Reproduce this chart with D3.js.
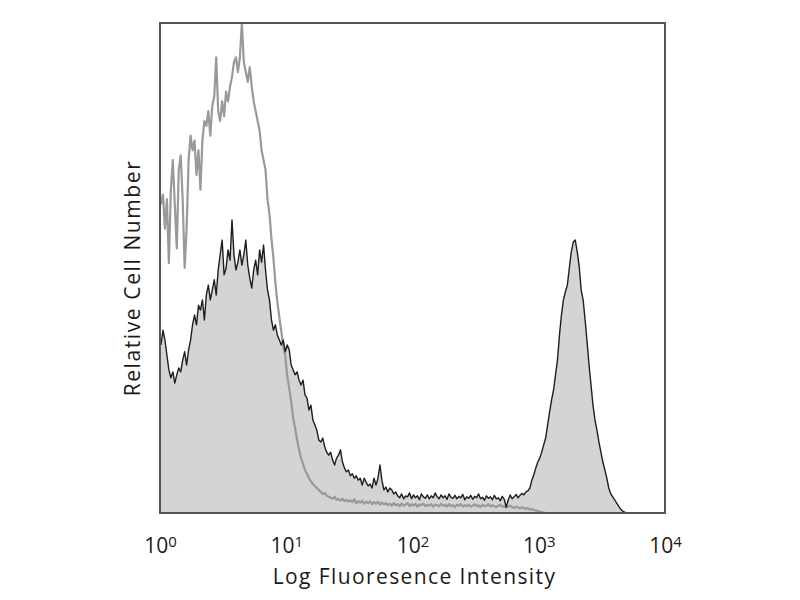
<!DOCTYPE html>
<html><head><meta charset="utf-8">
<script src="https://cdn.jsdelivr.net/npm/d3@7"></script>
<style>
body{margin:0;background:#fff;}
text{font-family:"Open Sans","Noto Sans",sans-serif;fill:#1a1a1a;}
</style>
</head><body>
<svg id="chart" width="800" height="600"></svg>
<script>
// Histogram bins: 256 channels over 4 decades (64 bins per decade)
const binsPerDecade = 64;
const decadeTicks = [1, 10, 100, 1000, 10000];
const tickExponents = ["0", "1", "2", "3", "4"];
const xTitle = "Log Fluoresence Intensity";
const yTitle = "Relative Cell Number";

// Unstained / control histogram (gray outline)
const controlCounts = [
 63,65,58,64,51,66,72,63,54,70, 73,64,50,58,72,77,74,76,69,74,
 66,76,80,79,82,77,83,85,93,82, 80,84,81,86,84,87,89,92,93,90,
 93,100,92,90,88,91,87,84,82,80, 78,74,72,70,64,61,56,52,47,43,
 40,37,34,32,28,25.5,22.7,19.4,17.3,14.9, 12.9,11.2,10,8.8,8,7.1,6.5,5.9,5.5,5.1,
 4.7,4.3,3.9,4.1,3.5,3.3,3.1,2.9,3.3,2.7, 2.9,2.5,2.9,2.4,2.7,2.3,
 2.6,2.2,2.8,2.0,2.4,2.1,2.5,1.9,2.3,2.0, 2.4,1.8,2.2,1.9,2.3,1.7,2.1,1.8,2.0,1.6,
 1.9,1.5,2.0,1.6,1.8,1.4,1.9,1.5,1.7,2.0, 1.4,1.8,1.5,1.9,1.3,1.7,1.6,1.9,1.4,1.7,
 1.5,1.8,1.3,1.7,1.6,1.4,1.9,1.5,1.7,1.3, 1.8,1.4,1.6,1.2,1.7,1.5,1.8,1.3,1.6,1.4,
 1.7,1.3,1.5,1.8,1.4,1.6,1.2,1.7,1.4,1.5, 1.8,1.3,1.6,1.4,1.2,1.5,1.7,1.3,1.4,1.1,
 1.3,1.5,1.2,1.0,1.3,1.1,0.9,1.2,1.0,0.8, 1.0,0.7,0.8,0.6,0.5,0.4,
 0.3,0.2,0.1,0
];

// Stained sample histogram (black outline, gray fill)
const stainedCounts = [
 34.3,37.3,35.3,32.2,29.2,27.6,28.8,26.5,28.2,29.6,
 28.8,31.2,32.9,30.2,33.3,35.3,38.4,40.4,38.4,42.4,
 41.4,43.5,39.4,44.5,46.5,43.5,45.5,47.6,44.5,49.6,
 52.7,55.7,48.6,50,53.7,51.6,59.8,52.7,49.6,51.2,
 53.7,50.6,52.7,55.7,50.6,48,45.9,49.6,51.6,48.6,
 53.7,51.2,54.7,49.6,45.5,43.5,39.4,37.3,38.4,36.3,
 35.3,34.3,35.3,32.9,34.3,33.3,30.2,29.2,28.2,28.8,
 27.1,26.1,27.1,24.1,23.5,21,22,19,18,16.9,
 14.9,14.5,15.3,13.5,12.4,11.8,12.4,10.8,9.8,11.2,
 11.8,12.9,10.4,9.2,8.4,8.8,7.6,8,7.1,7.6,
 6.7,7.1,5.7,7.1,6.3,5.5,5.9,5.1,7.1,5.7,
 7.1,9.8,6.7,4.7,5.3,4.3,5.1,4.7,3.9,4.3,
 3.5,
 3.1,3.9,2.9,3.5,3.3,4.1,2.9,3.7,3.1,3.5,
 2.7,3.9,3.3,3.0,3.7,2.9,3.5,3.1,4.1,3.3,
 2.9,3.7,3.1,3.5,2.8,3.9,3.2,3.0,3.6,2.9,
 3.4,3.1,3.8,2.7,3.3,3.0,3.6,2.8,3.4,3.1,
 3.9,2.9,3.2,2.6,3.5,3.0,3.3,2.7,3.6,2.9,
 3.1,2.5,3.4,2.8,1.2,2.6,3.7,2.9,3.3,3.8,
 3.1,3.6,4.0,3.7,4.3,
 4.5,5.1,6.7,7.8,9.2,10.4,11.2,12.4,13.9,15.3,
 18,20.6,23.1,25.1,28.2,31.2,36.3,40.4,43.5,45.1,
 46.5,50,53.3,55.3,55.7,53.3,50.4,45.5,43.5,39.4,
 34.9,30.2,26.1,22,19,16.9,14.5,12.4,10.4,8.8,
 7.1,5.1,3.9,3.3,2.7,2,1.4,0.8,0.4,0.2,
 0
];

const W = 800, H = 600;
const margin = {top: 23, right: 135, bottom: 87, left: 160};
const iw = W - margin.left - margin.right;
const ih = H - margin.top - margin.bottom;

const svg = d3.select("#chart");
const g = svg.append("g").attr("transform", `translate(${margin.left},${margin.top})`);

const x = d3.scaleLog().domain([1, 10000]).range([0, iw]);
const y = d3.scaleLinear().domain([0, 100]).range([ih, 0]);

const binValue = i => Math.pow(10, (i + 0.5) / binsPerDecade);
const control = controlCounts.map((c, i) => ({v: binValue(i), c}));
const stained = stainedCounts.map((c, i) => ({v: binValue(i), c}));

svg.append("defs").append("clipPath").attr("id", "clip")
  .append("rect").attr("width", iw).attr("height", ih);

const plot = g.append("g").attr("clip-path", "url(#clip)");

const area = d3.area().x(d => x(d.v)).y0(y(0)).y1(d => y(d.c));
const line = d3.line().x(d => x(d.v)).y(d => y(d.c));

plot.append("path").datum(stained).attr("d", area).attr("fill", "#d4d4d4");
plot.append("path").datum(control).attr("d", line)
  .attr("fill", "none").attr("stroke", "#999").attr("stroke-width", 2.2)
  .attr("stroke-linejoin", "round");
plot.append("path").datum(stained).attr("d", line)
  .attr("fill", "none").attr("stroke", "#1e1e1e").attr("stroke-width", 1.4)
  .attr("stroke-linejoin", "round");

// frame
g.append("rect").attr("width", iw).attr("height", ih)
  .attr("fill", "none").attr("stroke", "#555").attr("stroke-width", 2);

// x axis
const xAxis = d3.axisBottom(x).tickValues(decadeTicks).tickSize(0).tickPadding(25).tickFormat(() => "");
const ax = g.append("g").attr("transform", `translate(0,${ih})`).call(xAxis);
ax.select(".domain").remove();
ax.selectAll(".tick text").each(function(d, i) {
  const t = d3.select(this).attr("font-size", 21).attr("font-family", null).attr("fill", "#1a1a1a");
  t.append("tspan").text("10");
  t.append("tspan").attr("dy", "-0.42em").attr("font-size", 15).text(tickExponents[i]);
});

// titles
svg.append("text").attr("x", margin.left + iw / 2 + 2).attr("y", 584)
  .attr("text-anchor", "middle").attr("font-size", 21).attr("letter-spacing", 1.4).text(xTitle);
svg.append("text").attr("transform", "translate(140,278) rotate(-90)")
  .attr("text-anchor", "middle").attr("font-size", 21).attr("letter-spacing", 1.6).text(yTitle);
</script>
</body></html>
